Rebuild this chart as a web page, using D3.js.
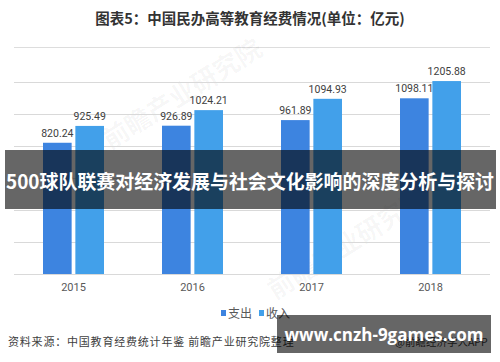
<!DOCTYPE html>
<html>
<head>
<meta charset="utf-8">
<script src="https://cdn.jsdelivr.net/npm/d3@7"></script>
<style>
  body { margin: 0; background: #fff; }
  svg { display: block; font-family: "Noto Sans CJK SC", "Microsoft YaHei", sans-serif; }
</style>
</head>
<body>
<script>
var years = ['2015', '2016', '2017', '2018'];
var spending = [820.24, 926.89, 961.89, 1098.11];   // 支出
var income = [925.49, 1024.21, 1094.93, 1205.88];   // 收入
var seriesNames = ['支出', '收入'];
var seriesColors = ['#3d84e0', '#42a0ea'];
var gridValues = [0, 200, 400, 600, 800, 1000, 1200];

var W = 500, H = 362;

var svg = d3.select('body').append('svg')
                .attr('width', W)
                .attr('height', H);

// title
svg.append('text')
    .attr('x', 250).attr('y', 24)
    .attr('text-anchor', 'middle')
    .attr('font-size', '14.5px').attr('font-weight', 'bold')
    .attr('fill', '#333')
    .text('图表5：中国民办高等教育经费情况(单位：亿元)');

svg.append('line')
    .attr('x1', 14).attr('x2', 490)
    .attr('y1', 47.5).attr('y2', 47.5)
    .attr('stroke', '#ddd');

// faint watermark
svg.append('text')
    .attr('transform', 'translate(110,150) rotate(-32)')
    .attr('font-size', '26px').attr('font-weight', 'bold')
    .attr('fill', '#000').attr('fill-opacity', 0.04)
    .text('前瞻产业研究院');
svg.append('text')
    .attr('transform', 'translate(275,300) rotate(-32)')
    .attr('font-size', '26px').attr('font-weight', 'bold')
    .attr('fill', '#000').attr('fill-opacity', 0.04)
    .text('前瞻产业研究院');

var x = d3.scaleBand().domain(years).range([14, 490]);
var y = d3.scaleLinear().domain([0, 1200]).range([274, 82]);
var xs = d3.scaleBand().domain(seriesNames).range([0, 61]).paddingInner(0.115);

// grid
svg.append('g').selectAll('line')
    .data(gridValues)
    .enter().append('line')
    .attr('x1', 14).attr('x2', 490)
    .attr('y1', function(d){ return Math.round(y(d)) + 0.5; })
    .attr('y2', function(d){ return Math.round(y(d)) + 0.5; })
    .attr('stroke', '#d9d9d9');

var rows = years.map(function(yr, i){
    return { year: yr, values: [spending[i], income[i]] };
});

var groups = svg.selectAll('g.grp')
    .data(rows)
    .enter().append('g')
    .attr('class', 'grp')
    .attr('transform', function(d){ return 'translate(' + (x(d.year) + x.bandwidth() / 2 - 30.5) + ',0)'; });

groups.selectAll('rect')
    .data(function(d){ return d.values.map(function(v, j){ return { s: seriesNames[j], v: v, c: seriesColors[j] }; }); })
    .enter().append('rect')
    .attr('x', function(d){ return xs(d.s); })
    .attr('y', function(d){ return y(d.v); })
    .attr('width', xs.bandwidth())
    .attr('height', function(d){ return y(0) - y(d.v); })
    .attr('fill', function(d){ return d.c; });

groups.selectAll('text.val')
    .data(function(d){ return d.values.map(function(v, j){ return { s: seriesNames[j], v: v }; }); })
    .enter().append('text')
    .attr('class', 'val')
    .attr('x', function(d){ return xs(d.s) + xs.bandwidth() / 2; })
    .attr('y', function(d){ return y(d.v) - 6; })
    .attr('text-anchor', 'middle')
    .attr('font-size', '10.5px')
    .attr('font-family', 'Roboto, "Noto Sans", sans-serif')
    .attr('fill', '#404040')
    .text(function(d){ return d.v.toFixed(2); });

// x axis labels
var xAxis = d3.axisBottom(x).tickSize(0).tickPadding(9);
var xg = svg.append('g').attr('transform', 'translate(0,274)').call(xAxis);
xg.select('.domain').remove();
xg.selectAll('text')
    .attr('font-size', '11px')
    .attr('font-family', 'Roboto, "Noto Sans", sans-serif')
    .attr('fill', '#595959');

// legend
var legend = svg.selectAll('g.leg')
    .data(seriesNames)
    .enter().append('g')
    .attr('class', 'leg')
    .attr('transform', function(d, i){ return 'translate(' + (221 + i * 38) + ',313)'; });
legend.append('rect')
    .attr('x', 0).attr('y', -3)
    .attr('width', 5).attr('height', 6)
    .attr('fill', function(d, i){ return seriesColors[i]; });
legend.append('text')
    .attr('x', 7).attr('y', 4.5)
    .attr('font-size', '12px')
    .attr('fill', '#595959')
    .text(function(d){ return d; });

// source
svg.append('text')
    .attr('x', 8).attr('y', 346)
    .attr('font-size', '11px')
    .attr('fill', '#404040')
    .attr('letter-spacing', '0.8px')
    .text('资料来源：中国教育经费统计年鉴 前瞻产业研究院整理');
svg.append('text')
    .attr('x', 395).attr('y', 346)
    .attr('font-size', '10.5px')
    .attr('fill', '#404040')
    .text('@前瞻经济学人APP');

// overlay banner
svg.append('rect')
    .attr('x', 5).attr('y', 150)
    .attr('width', 491).attr('height', 59)
    .attr('fill', '#000').attr('fill-opacity', 0.6);
svg.append('text')
    .attr('x', 250).attr('y', 189)
    .attr('text-anchor', 'middle')
    .attr('font-size', '19.5px').attr('font-weight', 'bold')
    .attr('textLength', 488).attr('lengthAdjust', 'spacingAndGlyphs')
    .attr('fill', '#fff')
    .text('500球队联赛对经济发展与社会文化影响的深度分析与探讨');

// site box
svg.append('rect')
    .attr('x', 277).attr('y', 315)
    .attr('width', 214).attr('height', 38)
    .attr('fill', '#000').attr('fill-opacity', 0.6);
svg.append('text')
    .attr('x', 384).attr('y', 341)
    .attr('text-anchor', 'middle')
    .attr('font-size', '17px').attr('font-weight', 'bold')
    .attr('font-family', '"Open Sans", "Noto Sans", sans-serif')
    .attr('fill', '#fff')
    .text('www.cnzh-9games.com');
</script>
</body>
</html>
